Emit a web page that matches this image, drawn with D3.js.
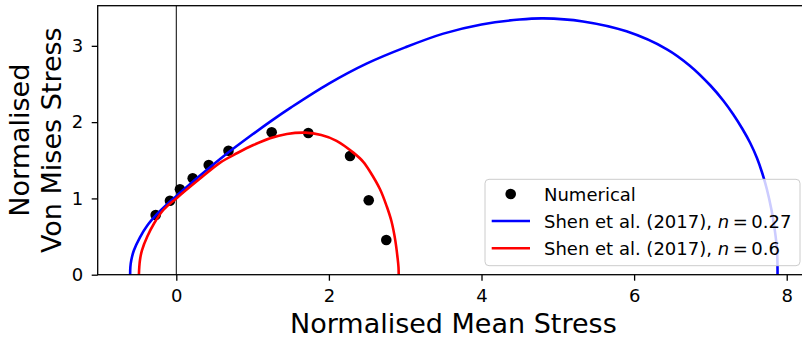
<!DOCTYPE html>
<html>
<head>
<meta charset="utf-8">
<script src="https://cdn.jsdelivr.net/npm/d3@7"></script>
<style>
  html, body { margin: 0; padding: 0; background: #ffffff; }
  svg { display: block; font-family: "DejaVu Sans", sans-serif; }
</style>
</head>
<body>
<svg id="chart" width="802" height="344"></svg>
<script>
// ---- data ----
const numericalX = [-0.27, -0.083, 0.048, 0.215, 0.425, 0.684, 1.25, 1.73, 2.277, 2.522, 2.752];
const numericalY = [0.782, 0.970, 1.119, 1.263, 1.438, 1.625, 1.866, 1.857, 1.556, 0.975, 0.455];

const shen027X = [-0.605, -0.602, -0.59, -0.555, -0.476, -0.38, -0.257, -0.12, 0, 0.3, 0.615, 1.0, 1.25, 1.5, 2.0, 2.5, 3.0, 3.5, 4.0, 4.5, 4.81, 5.33, 5.9, 6.43, 6.73, 7.0, 7.17, 7.30, 7.42, 7.52, 7.61, 7.68, 7.74, 7.80, 7.84, 7.865, 7.876, 7.88];
const shen027Y = [0, 0.1, 0.19, 0.32, 0.49, 0.645, 0.79, 0.925, 1.03, 1.29, 1.55, 1.84, 2.02, 2.19, 2.505, 2.77, 2.98, 3.16, 3.28, 3.345, 3.36, 3.32, 3.19, 2.955, 2.74, 2.48, 2.28, 2.10, 1.91, 1.73, 1.53, 1.33, 1.12, 0.85, 0.61, 0.41, 0.25, 0];

const shen06X = [-0.49, -0.485, -0.475, -0.45, -0.38, -0.29, -0.17, 0, 0.3, 0.575, 0.8, 1.01, 1.23, 1.45, 1.69, 1.90, 2.10, 2.32, 2.45, 2.54, 2.67, 2.76, 2.82, 2.87, 2.90, 2.912, 2.915];
const shen06Y = [0, 0.1, 0.2, 0.32, 0.50, 0.674, 0.848, 1.0, 1.25, 1.47, 1.595, 1.70, 1.79, 1.845, 1.862, 1.83, 1.755, 1.60, 1.48, 1.35, 1.12, 0.89, 0.70, 0.45, 0.22, 0.1, 0];

const xTicks = [0, 2, 4, 6, 8];
const yTicks = [0, 1, 2, 3];
const xLabel = "Normalised Mean Stress";
const yLabelLines = ["Normalised", "Von Mises Stress"];
const legendLabels = ["Numerical", "Shen et al. (2017), ", "Shen et al. (2017), "];
const legendN = ["", "0.27", "0.6"];

// ---- layout ----
const L = 97.7, R = 809, T = 5.7, B = 274.7;
const svg = d3.select("#chart");

const x = d3.scaleLinear().domain([-1.030, 8.292]).range([L, R]);
const y = d3.scaleLinear().domain([0, 3.526]).range([B, T]);

svg.append("defs").append("clipPath").attr("id", "clip")
  .append("rect").attr("x", L).attr("y", T).attr("width", R - L).attr("height", B - T);

const plot = svg.append("g").attr("clip-path", "url(#clip)");

// vertical line at x=0
plot.append("line")
  .attr("x1", x(0)).attr("x2", x(0)).attr("y1", T).attr("y2", B)
  .attr("stroke", "#000").attr("stroke-width", 1);

// numerical points
plot.selectAll("circle.num").data(d3.zip(numericalX, numericalY)).enter()
  .append("circle").attr("class", "num")
  .attr("cx", d => x(d[0])).attr("cy", d => y(d[1])).attr("r", 5.3)
  .attr("fill", "#000");

const line = d3.line().x(d => x(d[0])).y(d => y(d[1])).curve(d3.curveCatmullRom.alpha(0.5));

plot.append("path").datum(d3.zip(shen027X, shen027Y))
  .attr("d", line).attr("fill", "none").attr("stroke", "#0000ff").attr("stroke-width", 2.6);
plot.append("path").datum(d3.zip(shen06X, shen06Y))
  .attr("d", line).attr("fill", "none").attr("stroke", "#ff0000").attr("stroke-width", 2.6);

// axes
const xAxis = svg.append("g").attr("transform", `translate(0,${B})`)
  .call(d3.axisBottom(x).tickValues(xTicks).tickFormat(d3.format("d")).tickSize(6).tickPadding(9).tickSizeOuter(0));
const yAxis = svg.append("g").attr("transform", `translate(${L},0)`)
  .call(d3.axisLeft(y).tickValues(yTicks).tickFormat(d3.format("d")).tickSize(6).tickPadding(8.5).tickSizeOuter(0));
[xAxis, yAxis].forEach(a => {
  a.select(".domain").remove();
  a.selectAll(".tick line").attr("stroke", "#000").attr("stroke-width", 1.3);
  a.selectAll(".tick text").attr("font-size", 18).attr("font-family", "DejaVu Sans").attr("fill", "#000");
});

// spines
svg.append("rect").attr("x", L).attr("y", T).attr("width", R - L).attr("height", B - T)
  .attr("fill", "none").attr("stroke", "#000").attr("stroke-width", 1.3);

// axis labels
svg.append("text").attr("x", (L + R) / 2).attr("y", 333)
  .attr("text-anchor", "middle").attr("font-size", 27).attr("fill", "#000").text(xLabel);
const yc = (T + B) / 2;
[29, 61].forEach((bx, i) => {
  svg.append("text").attr("transform", `translate(${bx},${yc}) rotate(-90)`)
    .attr("text-anchor", "middle").attr("font-size", 27).attr("fill", "#000").text(yLabelLines[i]);
});

// legend
const lg = svg.append("g");
lg.append("rect").attr("x", 485).attr("y", 179.3).attr("width", 315).attr("height", 86.4)
  .attr("rx", 4).attr("ry", 4)
  .attr("fill", "#fff").attr("fill-opacity", 0.8).attr("stroke", "#cccccc").attr("stroke-width", 1);
const rowY = [194, 221, 248.3];
const colors = [null, "#0000ff", "#ff0000"];
rowY.forEach((ry, i) => {
  if (i === 0) {
    lg.append("circle").attr("cx", 510.7).attr("cy", ry).attr("r", 5.3).attr("fill", "#000");
  } else {
    lg.append("line").attr("x1", 491.7).attr("x2", 530).attr("y1", ry).attr("y2", ry)
      .attr("stroke", colors[i]).attr("stroke-width", 2.6);
  }
  const t = lg.append("text").attr("x", 544).attr("y", ry + 6.5).attr("font-size", 18).attr("fill", "#000");
  t.append("tspan").text(legendLabels[i]);
  if (legendN[i]) {
    t.append("tspan").attr("font-style", "italic").text("n");
    t.append("tspan").text("\u2009=\u2009" + legendN[i]);
  }
});
</script>
</body>
</html>
